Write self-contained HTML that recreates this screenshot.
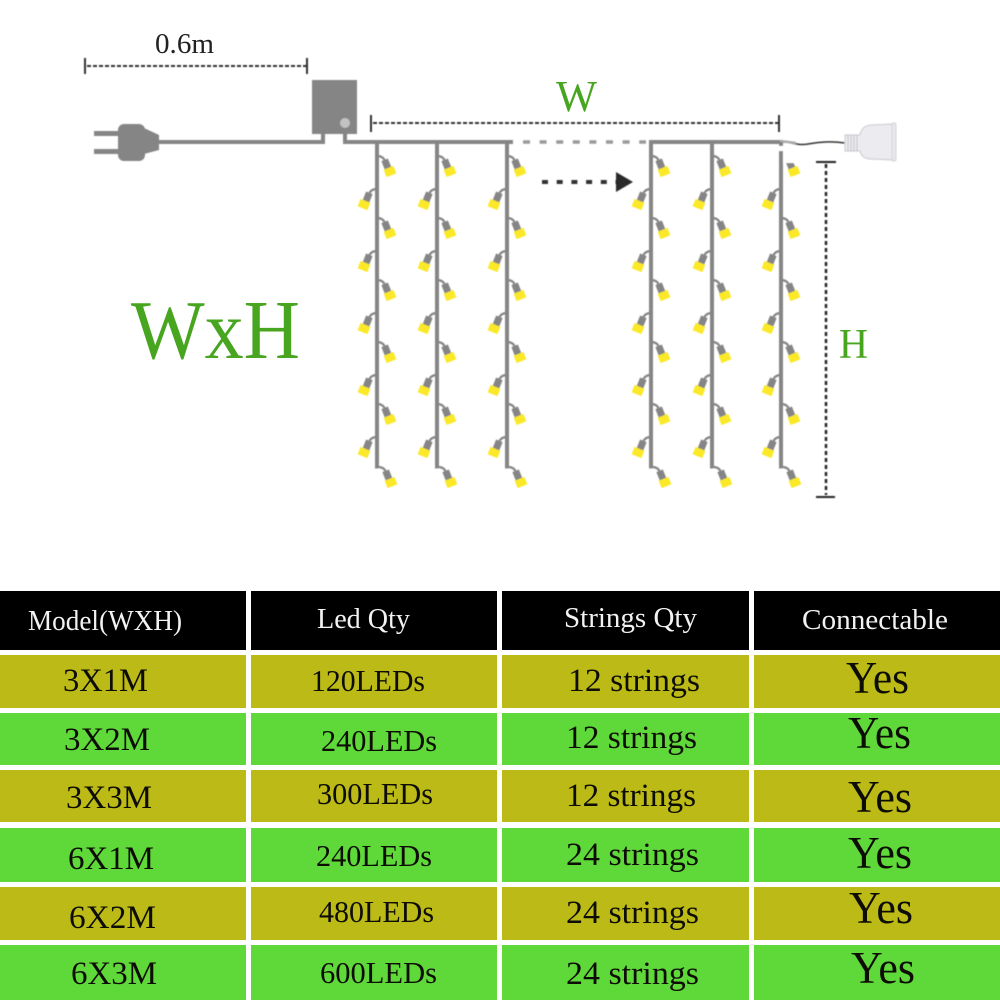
<!DOCTYPE html>
<html>
<head>
<meta charset="utf-8">
<style>
html,body{margin:0;padding:0;background:#fff}
svg{display:block}
text{font-family:"Liberation Serif",serif}
.t{fill:#0d0d05}
.h{fill:#f2f2f2}
.g{fill:#47a51f}
</style>
</head>
<body>
<svg width="1000" height="1000" viewBox="0 0 1000 1000" xmlns="http://www.w3.org/2000/svg">
<defs>
  <filter id="soft" x="-5%" y="-5%" width="110%" height="110%"><feGaussianBlur stdDeviation="0.4"/></filter>
  <g id="lr">
    <path d="M0 0c3.500 0 6 1 7.500 4" fill="none" stroke="#858585" stroke-width="2.300"/>
    <rect x="6" y="3.500" width="7" height="10" fill="#858585" transform="rotate(-22 9.500 8.500)"/>
    <rect x="7.750" y="11.500" width="10.500" height="8" fill="#fbe826" transform="rotate(-22 13 15.500)"/>
  </g>
  <g id="ll">
    <path d="M0 0c-3.500 0-6 1-7.500 4" fill="none" stroke="#858585" stroke-width="2.300"/>
    <rect x="-13" y="3.500" width="7" height="10" fill="#858585" transform="rotate(22 -9.500 8.500)"/>
    <rect x="-18.250" y="11.500" width="10.500" height="8" fill="#fbe826" transform="rotate(22 -13 15.500)"/>
  </g>
  <g id="s">
    <path d="M0 142V466.500H1" fill="none" stroke="#858585" stroke-width="4"/>
    <use href="#lr" x="0" y="156"/>
    <use href="#lr" x="0" y="218"/>
    <use href="#lr" x="0" y="280"/>
    <use href="#lr" x="0" y="342"/>
    <use href="#lr" x="0" y="404"/>
    <use href="#lr" x="1" y="467"/>
    <use href="#ll" x="0" y="189"/>
    <use href="#ll" x="0" y="251"/>
    <use href="#ll" x="0" y="313"/>
    <use href="#ll" x="0" y="375"/>
    <use href="#ll" x="0" y="437"/>
  </g>
</defs>

<rect width="1000" height="1000" fill="#fff"/>

<g filter="url(#soft)">
<!-- 0.6m dimension -->
<path d="M87 66H306" stroke="#333" stroke-width="2" stroke-dasharray="4 2" fill="none"/>
<path d="M85 58V74M307 58V74" stroke="#333" stroke-width="2" fill="none"/>

<!-- plug -->
<rect x="94" y="131" width="26" height="5" fill="#858585"/>
<rect x="94" y="149" width="26" height="5" fill="#858585"/>
<rect x="118" y="124" width="27" height="37" rx="6" fill="#858585"/>
<polygon points="144,128 159,135 159,150 144,154" fill="#858585"/>
<path d="M158 142H323V133" fill="none" stroke="#858585" stroke-width="4"/>

<!-- controller -->
<rect x="312" y="80" width="45" height="54" fill="#858585"/>
<circle cx="345" cy="123" r="5" fill="#c2c2c2"/>
<path d="M345 133V142H513" fill="none" stroke="#858585" stroke-width="4"/>

<!-- W dimension -->
<path d="M373 123H778" stroke="#333" stroke-width="2" stroke-dasharray="4 2" fill="none"/>
<path d="M371 115V132M779 115V132" stroke="#333" stroke-width="2" fill="none"/>

<!-- top bus -->
<path d="M523 142H646" stroke="#999" stroke-width="3.500" stroke-dasharray="7 9.600" fill="none"/>
<path d="M649 142H780" stroke="#858585" stroke-width="4" fill="none"/>

<!-- strands -->
<use href="#s" x="377"/>
<use href="#s" x="437"/>
<use href="#s" x="507"/>
<use href="#s" x="651"/>
<use href="#s" x="712"/>
<use href="#s" x="781"/>
<rect x="776" y="146" width="10" height="5" fill="#fff"/>
<rect x="783" y="152" width="12" height="11" fill="#fff"/>

<!-- arrow -->
<path d="M542 182H616" stroke="#333" stroke-width="4" stroke-dasharray="6 8.700" fill="none"/>
<polygon points="616,172 633,182 616,192" fill="#2c2c2c"/>

<!-- bulb socket -->
<path d="M780 142C790 141 796 146 808 144S830 141 845 143" fill="none" stroke="#333" stroke-width="1.500"/>
<path d="M780 141L796 143" stroke="#aaa" stroke-width="2.500" fill="none"/>
<path d="M845 135H860C861 129 865 125 872 125L893 124V160L872 159C865 159 861 156 860 151H845Z" fill="#ececf0" stroke="#d0d0d4" stroke-width="1.200"/>
<path d="M848 135V151M851 135V151M854 135V151M857 135V151" stroke="#c4c4c8" stroke-width="1" fill="none"/>
<rect x="892" y="123" width="4" height="38" rx="1.500" fill="#e8e8ec" stroke="#d4d4d8" stroke-width="1"/>

<!-- H dimension -->
<path d="M826 164V495" stroke="#222" stroke-width="2.500" stroke-dasharray="4 3" fill="none"/>
<path d="M816 162H836M816 497H835" stroke="#222" stroke-width="2" fill="none"/>
</g>

<text x="155" y="53" font-size="28" textLength="59" lengthAdjust="spacingAndGlyphs" fill="#222">0.6m</text>
<text x="556" y="111" font-size="44" textLength="41" lengthAdjust="spacingAndGlyphs" class="g">W</text>
<text x="839" y="358" font-size="42" textLength="29" lengthAdjust="spacingAndGlyphs" class="g">H</text>

<!-- WxH -->
<text x="131" y="358" font-size="84" textLength="169" lengthAdjust="spacingAndGlyphs" class="g">WxH</text>

<!-- table backgrounds -->
<g fill="#000">
  <rect x="0" y="591" width="246" height="59"/>
  <rect x="251" y="591" width="246" height="59"/>
  <rect x="502" y="591" width="247" height="59"/>
  <rect x="754" y="591" width="246" height="59"/>
</g>
<g fill="#bcba17">
  <rect x="0" y="655" width="246" height="53"/>
  <rect x="251" y="655" width="246" height="53"/>
  <rect x="502" y="655" width="247" height="53"/>
  <rect x="754" y="655" width="246" height="53"/>
  <rect x="0" y="770" width="246" height="52"/>
  <rect x="251" y="770" width="246" height="52"/>
  <rect x="502" y="770" width="247" height="52"/>
  <rect x="754" y="770" width="246" height="52"/>
  <rect x="0" y="887" width="246" height="53"/>
  <rect x="251" y="887" width="246" height="53"/>
  <rect x="502" y="887" width="247" height="53"/>
  <rect x="754" y="887" width="246" height="53"/>
</g>
<g fill="#5fd83a">
  <rect x="0" y="713" width="246" height="52"/>
  <rect x="251" y="713" width="246" height="52"/>
  <rect x="502" y="713" width="247" height="52"/>
  <rect x="754" y="713" width="246" height="52"/>
  <rect x="0" y="828" width="246" height="54"/>
  <rect x="251" y="828" width="246" height="54"/>
  <rect x="502" y="828" width="247" height="54"/>
  <rect x="754" y="828" width="246" height="54"/>
  <rect x="0" y="945" width="246" height="55"/>
  <rect x="251" y="945" width="246" height="55"/>
  <rect x="502" y="945" width="247" height="55"/>
  <rect x="754" y="945" width="246" height="55"/>
</g>

<!-- headers -->
<g class="h" font-size="28">
  <text x="28" y="630" textLength="154" lengthAdjust="spacingAndGlyphs">Model(WXH)</text>
  <text x="317" y="628" textLength="93" lengthAdjust="spacingAndGlyphs">Led Qty</text>
  <text x="564" y="627" textLength="133" lengthAdjust="spacingAndGlyphs">Strings Qty</text>
  <text x="802" y="629" textLength="146" lengthAdjust="spacingAndGlyphs">Connectable</text>
</g>

<!-- column 1 -->
<g class="t" font-size="33">
  <text x="63" y="691" textLength="85" lengthAdjust="spacingAndGlyphs">3X1M</text>
  <text x="64" y="750" textLength="86" lengthAdjust="spacingAndGlyphs">3X2M</text>
  <text x="66" y="808" textLength="86" lengthAdjust="spacingAndGlyphs">3X3M</text>
  <text x="68" y="869" textLength="86" lengthAdjust="spacingAndGlyphs">6X1M</text>
  <text x="69" y="928" textLength="87" lengthAdjust="spacingAndGlyphs">6X2M</text>
  <text x="71" y="984" textLength="86" lengthAdjust="spacingAndGlyphs">6X3M</text>
</g>

<!-- column 2 -->
<g class="t" font-size="31">
  <text x="311" y="691" textLength="114" lengthAdjust="spacingAndGlyphs">120LEDs</text>
  <text x="321" y="751" textLength="116" lengthAdjust="spacingAndGlyphs">240LEDs</text>
  <text x="317" y="804" textLength="116" lengthAdjust="spacingAndGlyphs">300LEDs</text>
  <text x="316" y="866" textLength="116" lengthAdjust="spacingAndGlyphs">240LEDs</text>
  <text x="319" y="922" textLength="115" lengthAdjust="spacingAndGlyphs">480LEDs</text>
  <text x="320" y="983" textLength="117" lengthAdjust="spacingAndGlyphs">600LEDs</text>
</g>

<!-- column 3 -->
<g class="t" font-size="33">
  <text x="568" y="691" textLength="132" lengthAdjust="spacingAndGlyphs">12 strings</text>
  <text x="566" y="748" textLength="131" lengthAdjust="spacingAndGlyphs">12 strings</text>
  <text x="566" y="806" textLength="130" lengthAdjust="spacingAndGlyphs">12 strings</text>
  <text x="566" y="865" textLength="133" lengthAdjust="spacingAndGlyphs">24 strings</text>
  <text x="566" y="923" textLength="133" lengthAdjust="spacingAndGlyphs">24 strings</text>
  <text x="566" y="984" textLength="133" lengthAdjust="spacingAndGlyphs">24 strings</text>
</g>

<!-- column 4 -->
<g class="t" font-size="45">
  <text x="846" y="693" textLength="63" lengthAdjust="spacingAndGlyphs">Yes</text>
  <text x="848" y="748" textLength="63" lengthAdjust="spacingAndGlyphs">Yes</text>
  <text x="848" y="812" textLength="64" lengthAdjust="spacingAndGlyphs">Yes</text>
  <text x="848" y="868" textLength="64" lengthAdjust="spacingAndGlyphs">Yes</text>
  <text x="849" y="923" textLength="64" lengthAdjust="spacingAndGlyphs">Yes</text>
  <text x="851" y="983" textLength="64" lengthAdjust="spacingAndGlyphs">Yes</text>
</g>
</svg>
</body>
</html>
